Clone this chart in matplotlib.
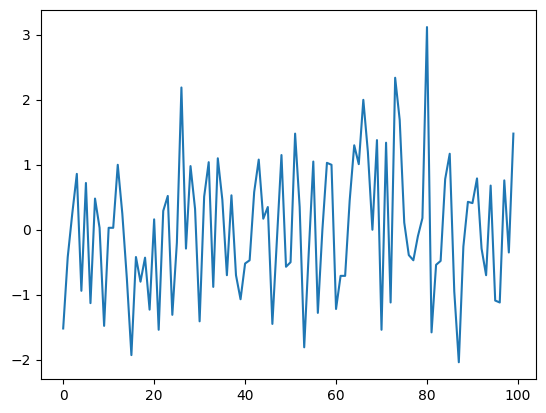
import numpy as np
import matplotlib
matplotlib.use("Agg")
import matplotlib.pyplot as plt

# values, one per index 0..99
VALUES = [
    -1.52, -0.42, 0.25, 0.86, -0.94, 0.72, -1.13, 0.48, 0.03, -1.48,
    0.03, 0.03, 1.00, 0.25, -0.75, -1.93, -0.42, -0.80, -0.43, -1.23,
    0.16, -1.54, 0.29, 0.52, -1.31, -0.20, 2.19, -0.29, 0.98, 0.32,
    -1.41, 0.51, 1.04, -0.88, 1.10, 0.46, -0.70, 0.53, -0.70, -1.07,
    -0.52, -0.47, 0.58, 1.08, 0.17, 0.35, -1.45, -0.15, 1.15, -0.57,
    -0.50, 1.48, 0.35, -1.81, -0.35, 1.05, -1.28, 0.00, 1.03, 1.00,
    -1.22, -0.71, -0.71, 0.45, 1.30, 1.01, 2.00, 1.20, 0.00, 1.38,
    -1.54, 1.34, -1.12, 2.34, 1.69, 0.11, -0.39, -0.47, -0.10, 0.18,
    3.12, -1.58, -0.54, -0.48, 0.78, 1.17, -0.95, -2.04, -0.26, 0.43,
    0.41, 0.79, -0.29, -0.70, 0.68, -1.09, -1.12, 0.76, -0.35, 1.48,
]
INDEX = np.arange(len(VALUES))


def main():
    fig = plt.figure(figsize=(5.46, 4.13), dpi=100)
    ax = fig.add_axes([0.0745, 0.0823, 0.907, 0.8927])
    ax.plot(INDEX, VALUES)
    fig.savefig("out.png", dpi=100)


if __name__ == "__main__":
    main()
